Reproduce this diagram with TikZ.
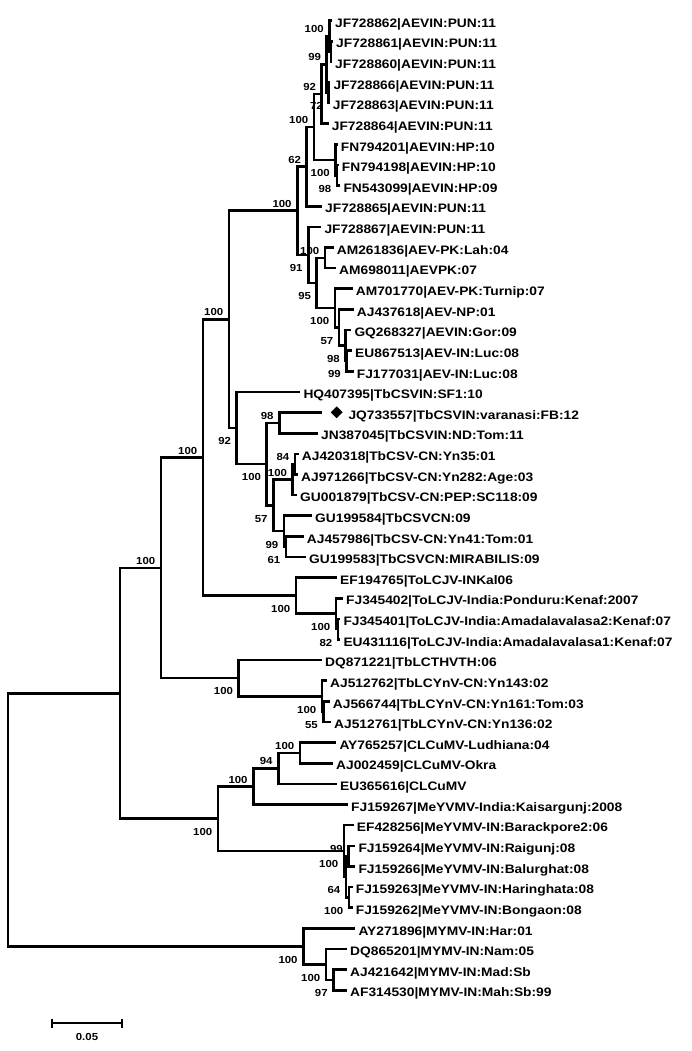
\documentclass[tikz,border=0pt]{standalone}
\usepackage{fontspec}
\newfontfamily\treefont[FakeStretch=1.12]{Liberation Sans}
\usetikzlibrary{shapes.geometric}
\tikzset{
  br/.style={line width=2.6pt, line join=miter},
  leaf/.style={font=\treefont\bfseries\fontsize{12.3}{14}\selectfont, inner sep=0pt, anchor=base west},
  bs/.style={font=\treefont\bfseries\fontsize{10.2}{12}\selectfont, inner sep=0pt, anchor=east},
}
\begin{document}
\begin{tikzpicture}[x=1pt,y=-1pt]
\useasboundingbox[fill=white] (0,0) rectangle (691,1051);
% leaves
\foreach \n/\x/\g/\t in {
1/332/3/{JF728862|AEVIN:PUN:11},
2/333/3/{JF728861|AEVIN:PUN:11},
3/332/3/{JF728860|AEVIN:PUN:11},
4/330.3/3/{JF728866|AEVIN:PUN:11},
5/329.7/3/{JF728863|AEVIN:PUN:11},
6/328.7/3/{JF728864|AEVIN:PUN:11},
7/337.7/3/{FN794201|AEVIN:HP:10},
8/338.7/3/{FN794198|AEVIN:HP:10},
9/340.3/3/{FN543099|AEVIN:HP:09},
10/322/3/{JF728865|AEVIN:PUN:11},
11/321.3/3/{JF728867|AEVIN:PUN:11},
12/333.7/3/{AM261836|AEV-PK:Lah:04},
13/336/3/{AM698011|AEVPK:07},
14/352.7/3/{AM701770|AEV-PK:Turnip:07},
15/353.7/3/{AJ437618|AEV-NP:01},
16/351.3/3/{GQ268327|AEVIN:Gor:09},
17/352/3/{EU867513|AEV-IN:Luc:08},
18/353.7/3/{FJ177031|AEV-IN:Luc:08},
19/300.3/3/{HQ407395|TbCSVIN:SF1:10},
20/322.3/26/{JQ733557|TbCSVIN:varanasi:FB:12},
21/318/3/{JN387045|TbCSVIN:ND:Tom:11},
22/298.7/3/{AJ420318|TbCSV-CN:Yn35:01},
23/298/3/{AJ971266|TbCSV-CN:Yn282:Age:03},
24/297/3/{GU001879|TbCSV-CN:PEP:SC118:09},
25/312/3/{GU199584|TbCSVCN:09},
26/303.7/3/{AJ457986|TbCSV-CN:Yn41:Tom:01},
27/306/3/{GU199583|TbCSVCN:MIRABILIS:09},
28/337/3/{EF194765|ToLCJV-INKal06},
29/343/3/{FJ345402|ToLCJV-India:Ponduru:Kenaf:2007},
30/340.3/3/{FJ345401|ToLCJV-India:Amadalavalasa2:Kenaf:07},
31/340.3/3/{EU431116|ToLCJV-India:Amadalavalasa1:Kenaf:07},
32/322/3/{DQ871221|TbLCTHVTH:06},
33/327/3/{AJ512762|TbLCYnV-CN:Yn143:02},
34/329.7/3/{AJ566744|TbLCYnV-CN:Yn161:Tom:03},
35/331/3/{AJ512761|TbLCYnV-CN:Yn136:02},
36/336.3/3/{AY765257|CLCuMV-Ludhiana:04},
37/333/3/{AJ002459|CLCuMV-Okra},
38/337/3/{EU365616|CLCuMV},
39/348/3/{FJ159267|MeYVMV-India:Kaisargunj:2008},
40/353.7/3/{EF428256|MeYVMV-IN:Barackpore2:06},
41/355.3/3/{FJ159264|MeYVMV-IN:Raigunj:08},
42/355.3/3/{FJ159266|MeYVMV-IN:Balurghat:08},
43/352.7/3/{FJ159263|MeYVMV-IN:Haringhata:08},
44/352.7/3/{FJ159262|MeYVMV-IN:Bongaon:08},
45/355.3/3/{AY271896|MYMV-IN:Har:01},
46/347/3/{DQ865201|MYMV-IN:Nam:05},
47/347/3/{AJ421642|MYMV-IN:Mad:Sb},
48/347/3/{AF314530|MYMV-IN:Mah:Sb:99}}{
  \pgfmathsetmacro\yy{20.6+(\n-1)*20.63}
  \coordinate (t\n) at (\x,\yy);
  \node[leaf] (l\n) at ([shift={(\g,6.7)}]t\n) {\t};
}
% internal nodes
\coordinate (a1) at (331,51.55);
\coordinate (a2) at (329.5,36.07);
\coordinate (a3) at (328.5,92.80);
\coordinate (a4) at (326.7,64.44);
\coordinate (a5) at (321.7,94.09);
\coordinate (b1) at (337,175.33);
\coordinate (b2) at (335.5,159.85);
\coordinate (b3) at (314,126.97);
\coordinate (b4) at (306.7,166.62);
\coordinate (d1) at (325,257.84);
\coordinate (h1) at (346.5,361.00);
\coordinate (h2) at (345.5,345.52);
\coordinate (h3) at (339,327.47);
\coordinate (e) at (335,308.13);
\coordinate (d) at (316.7,282.99);
\coordinate (c) at (308.3,254.94);
\coordinate (ntop) at (297.3,210.78);
\coordinate (T2) at (279.3,422.88);
\coordinate (T4a) at (295,464.15);
\coordinate (T4) at (292.7,479.62);
\coordinate (T6) at (286,546.67);
\coordinate (T5) at (284,531.19);
\coordinate (T3) at (273.3,505.41);
\coordinate (T1) at (266.7,464.14);
\coordinate (T0) at (236.7,428.04);
\coordinate (n229) at (229,319.41);
\coordinate (ToL3) at (338,629.19);
\coordinate (ToL2) at (336,613.71);
\coordinate (ToL) at (296,595.66);
\coordinate (n203) at (203,457.54);
\coordinate (Y2) at (323.5,711.70);
\coordinate (Y1) at (322,696.23);
\coordinate (Y0) at (238.7,678.18);
\coordinate (n161) at (161,567.86);
\coordinate (C1) at (300,752.97);
\coordinate (C2) at (278.3,768.44);
\coordinate (C3) at (253.3,786.49);
\coordinate (M2) at (348.5,856.12);
\coordinate (M3) at (349,897.38);
\coordinate (M1) at (346,876.75);
\coordinate (M0) at (344,850.96);
\coordinate (n218) at (218,818.73);
\coordinate (n120) at (120,693.30);
\coordinate (Z2) at (333.3,979.90);
\coordinate (Z1) at (326,964.43);
\coordinate (Z0) at (303.3,946.38);
\coordinate (root) at (8,819.84);
% branches
\foreach \pa/\ch in {a1/t2, a1/t3, a2/t1, a2/a1, a3/t4, a3/t5, a4/a2, a4/a3, a5/a4, a5/t6,
  b1/t8, b1/t9, b2/t7, b2/b1, b3/a5, b3/b2, b4/b3, b4/t10, d1/t12, d1/t13,
  h1/t17, h1/t18, h2/t16, h2/h1, h3/t15, h3/h2, e/t14, e/h3, d/d1, d/e, c/t11, c/d,
  ntop/b4, ntop/c, T2/t20, T2/t21, T4a/t22, T4a/t23, T4/T4a, T4/t24, T6/t26, T6/t27,
  T5/t25, T5/T6, T3/T4, T3/T5, T1/T2, T1/T3, T0/t19, T0/T1, n229/ntop, n229/T0,
  ToL3/t30, ToL3/t31, ToL2/t29, ToL2/ToL3, ToL/t28, ToL/ToL2, n203/n229, n203/ToL,
  Y2/t34, Y2/t35, Y1/t33, Y1/Y2, Y0/t32, Y0/Y1, n161/n203, n161/Y0,
  C1/t36, C1/t37, C2/C1, C2/t38, C3/C2, C3/t39, M2/t41, M2/t42, M3/t43, M3/t44,
  M1/M2, M1/M3, M0/t40, M0/M1, n218/C3, n218/M0, n120/n161, n120/n218,
  Z2/t47, Z2/t48, Z1/t46, Z1/Z2, Z0/t45, Z0/Z1, root/n120, root/Z0}{
  \draw[br] (\pa) |- (\ch);
}
% marker
\node[diamond, fill=black, inner sep=0pt, minimum width=12pt, minimum height=12pt] (dmd) at (336.7,412.3) {};
% bootstrap values above
\foreach \nd/\v in {a2/100, a4/99, a5/92, b3/100, b4/62, ntop/100, d1/100, n229/100,
  T2/98, T4/100, T4a/84, n203/100, n161/100, C1/100, C2/94, C3/100, M2/99}{
  \node[bs] (bs\nd) at ([shift={(-5.5,-7)}]\nd) {\v};
}
% bootstrap values below
\foreach \nd/\v in {a3/72, b1/98, b2/100, c/91, d/95, e/100, h3/57, h2/98, h1/99,
  T0/92, T1/100, T3/57, T5/99, T6/61, ToL/100, ToL2/100, ToL3/82, Y0/100, Y1/100, Y2/55,
  n218/100, M0/100, M1/64, M3/100, Z0/100, Z1/100, Z2/97}{
  \node[bs] (bs\nd) at ([shift={(-5.5,13.3)}]\nd) {\v};
}
% scale bar
\coordinate (sb1) at (52,1023);
\coordinate (sb2) at (122,1023);
\draw[br] (sb1) -- (sb2);
\draw[br] ([shift={(0,-4.5)}]sb1) -- ([shift={(0,4.5)}]sb1);
\draw[br] ([shift={(0,-4.5)}]sb2) -- ([shift={(0,4.5)}]sb2);
\node[bs, anchor=center] (sbl) at (87,1037) {0.05};
\end{tikzpicture}
\end{document}
